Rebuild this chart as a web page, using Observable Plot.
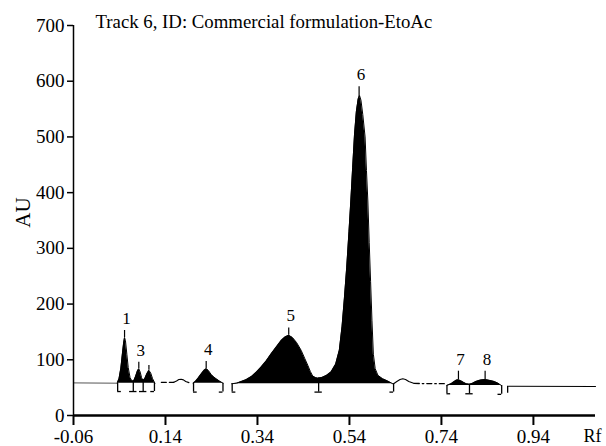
<!DOCTYPE html>
<html><head><meta charset="utf-8">
<script src="https://cdn.jsdelivr.net/npm/d3@7"></script>
<script src="https://cdn.jsdelivr.net/npm/@observablehq/plot@0.6"></script>
<style>body{margin:0;background:#fff} svg text{font-family:'Liberation Serif','Times New Roman',serif}</style>
</head><body><div id="chart"></div>
<script>
const title = "Track 6, ID: Commercial formulation-EtoAc";
const xTicks = [-0.06, 0.14, 0.34, 0.54, 0.74, 0.94];
const yTicks = [0, 100, 200, 300, 400, 500, 600, 700];

// filled peak regions (Rf, AU)
const peaks123Rf = [0.035, 0.039, 0.043, 0.046, 0.049, 0.051, 0.053, 0.056, 0.059, 0.063, 0.067, 0.071, 0.075, 0.079, 0.082, 0.085, 0.088, 0.091, 0.095, 0.099, 0.104, 0.108, 0.112, 0.117];
const peaks123Au = [58, 66, 85, 108, 130, 140, 134, 110, 86, 68, 62, 62, 70, 80, 84, 78, 68, 63, 66, 74, 81, 76, 66, 58];
const peak4Rf = [0.200, 0.205, 0.210, 0.218, 0.224, 0.2285, 0.233, 0.239, 0.245, 0.250, 0.257, 0.265];
const peak4Au = [58, 61, 66, 75, 81, 84, 81, 74, 69, 66, 62, 58];
const peaks56Rf = [0.284, 0.295, 0.305, 0.315, 0.327, 0.338, 0.348, 0.359, 0.370, 0.381, 0.392, 0.400, 0.408, 0.416, 0.425, 0.435, 0.443, 0.4495, 0.455, 0.460, 0.466, 0.471, 0.480, 0.490, 0.500, 0.510, 0.518, 0.524, 0.529, 0.534, 0.539, 0.543, 0.547, 0.551, 0.555, 0.559, 0.562, 0.565, 0.569, 0.574, 0.577, 0.580, 0.583, 0.586, 0.589, 0.592, 0.596, 0.602, 0.612, 0.623, 0.634];
const peaks56Au = [57, 58, 61, 64, 70, 78, 87, 98, 111, 123, 135, 141, 144, 140, 131, 117, 102, 90, 79, 71, 68, 67, 68, 72, 78, 92, 117, 160, 210, 265, 330, 385, 445, 504, 545, 568, 574, 566, 540, 500, 440, 385, 310, 240, 170, 110, 84, 72, 66, 62, 57];
const peaks78Rf = [0.752, 0.761, 0.768, 0.773, 0.777, 0.782, 0.788, 0.794, 0.801, 0.808, 0.815, 0.825, 0.835, 0.845, 0.855, 0.863, 0.870];
const peaks78Au = [54, 57, 61, 63.5, 64, 62.5, 59.5, 57, 56, 58, 61, 63.5, 64.6, 63, 61, 58, 54];

// unfilled baseline pieces
const leadRf = [-0.06, 0.035];           const leadAu = [58.5, 58];
const dashARf = [0.131, 0.158];          const dashAAu = [59.5, 59.5];
const humpARf = [0.158, 0.164, 0.169, 0.174, 0.179, 0.184, 0.191];
const humpAAu = [59.5, 62, 64.5, 65, 64, 61, 59];
const humpBRf = [0.636, 0.643, 0.650, 0.656, 0.662, 0.669, 0.681];
const humpBAu = [57, 61, 64.5, 65.8, 64.5, 61, 57.5];
const dashBRf = [0.681, 0.752];          const dashBAu = [57.5, 57];
const tailRf = [0.886, 1.075];           const tailAu = [52.6, 52];

// peak apex markers and labels
const peakRf = [0.051, 0.082, 0.104, 0.2285, 0.408, 0.561, 0.777, 0.835];
const peakApex = [140, 84, 81, 84, 144, 571, 64, 64.6];
const peakTickTop = [152.6, 95.7, 89.8, 97, 157, 590, 79.5, 79.5];
const peakLabels = ["1", "3", "", "4", "5", "6", "7", "8"];

// integration brackets
const bracketRf = [0.036, 0.070, 0.0915, 0.116, 0.201, 0.265, 0.285, 0.473, 0.636, 0.752, 0.801, 0.871, 0.884];
const bracketTop = [58, 62, 63, 58, 58, 58, 57, 67, 57, 54, 56, 54, 52.6];
const bracketBottom = [43, 43, 43, 43, 42, 42, 42, 42, 42, 39, 39, 38, 40];
const bracketKind = ["open", "split", "split", "close", "open", "close", "open", "split", "close", "open", "split", "close", "plain"];

// ---- build tables ----
function region(name, rf, au) {
  const n = rf.length, x0 = rf[0], x1 = rf[n - 1], b0 = au[0], b1 = au[n - 1];
  return rf.map((x, i) => ({region: name, rf: x, au: au[i], base: b0 + (b1 - b0) * (x - x0) / (x1 - x0)}));
}
const fillRows = [
  ...region("A", peaks123Rf, peaks123Au),
  ...region("B", peak4Rf, peak4Au),
  ...region("C", peaks56Rf, peaks56Au),
  ...region("D", peaks78Rf, peaks78Au)
];
const seg = (name, rf, au) => rf.map((x, i) => ({seg: name, rf: x, au: au[i]}));
const solidRows = [...seg("hA", humpARf, humpAAu), ...seg("hB", humpBRf, humpBAu), ...seg("tail", tailRf, tailAu)];
const leadRows = seg("lead", leadRf, leadAu);
const dashRows = [...seg("dA", dashARf, dashAAu)];
const dashDotRows = [...seg("dB", dashBRf, dashBAu)];

const footW = 0.008;
const brackets = bracketRf.map((x, i) => ({
  rf: x, top: bracketTop[i], bottom: bracketBottom[i], kind: bracketKind[i],
  left: bracketKind[i] === "close" || bracketKind[i] === "split" ? x - footW : x,
  right: bracketKind[i] === "open" || bracketKind[i] === "split" ? x + footW : x
}));
const feet = brackets.filter(d => d.kind !== "plain");
const peaks = peakRf.map((x, i) => ({rf: x, apex: peakApex[i], top: peakTickTop[i], label: peakLabels[i]}));

const serif = "'Liberation Serif', 'Times New Roman', serif";

const chart = Plot.plot({
  width: 606,
  height: 446,
  marginLeft: 73,
  marginRight: 11,
  marginTop: 25,
  marginBottom: 31,
  style: {fontFamily: serif, fontSize: "19px", background: "#fff", color: "#000"},
  x: {domain: [-0.06, 1.075]},
  y: {domain: [0, 700]},
  marks: [
    Plot.areaY(fillRows, {x: "rf", y1: "base", y2: "au", z: "region", fill: "#000", curve: "linear"}),
    Plot.line(fillRows, {x: "rf", y: "au", z: "region", stroke: "#000", strokeWidth: 1}),
    Plot.line(leadRows, {x: "rf", y: "au", z: "seg", stroke: "#555", strokeWidth: 1}),
    Plot.line(solidRows, {x: "rf", y: "au", z: "seg", stroke: "#000", strokeWidth: 1.1}),
    Plot.line(dashRows, {x: "rf", y: "au", z: "seg", stroke: "#000", strokeWidth: 1.3, strokeDasharray: "5,3"}),
    Plot.line(dashDotRows, {x: "rf", y: "au", z: "seg", stroke: "#000", strokeWidth: 1.3, strokeDasharray: "5,3,1.5,3"}),
    Plot.ruleX(brackets, {x: "rf", y1: "bottom", y2: "top", stroke: "#000", strokeWidth: 1.3}),
    Plot.ruleY(feet, {y: "bottom", x1: "left", x2: "right", stroke: "#000", strokeWidth: 1.3}),
    Plot.ruleX(peaks, {x: "rf", y1: "apex", y2: "top", stroke: "#000", strokeWidth: 1.2}),
    Plot.text(peaks, {x: "rf", y: "top", text: "label", dx: 2, dy: -12, fontSize: 17, fontFamily: serif, fill: "#000"}),
    Plot.ruleX([-0.06], {stroke: "#000", strokeWidth: 1.5}),
    Plot.ruleY([0], {stroke: "#000", strokeWidth: 2.6}),
    Plot.axisX({ticks: xTicks, tickSize: 10, tickPadding: 4, tickFormat: d => d.toFixed(2), label: null, strokeWidth: 2, fontSize: 19, fontFamily: serif}),
    Plot.axisY({ticks: yTicks, tickSize: 6, tickPadding: 3, label: null, strokeWidth: 1.5, fontSize: 19, fontFamily: serif}),
    Plot.text(["Rf"], {frameAnchor: "bottom-right", dx: 6, dy: 21, lineAnchor: "middle", textAnchor: "end", fontSize: 18, fontFamily: serif, fill: "#000"}),
    Plot.text(["AU"], {frameAnchor: "left", rotate: -90, dx: -50, dy: -8, lineAnchor: "middle", textAnchor: "middle", fontSize: 21, fontFamily: serif, fill: "#000"}),
    Plot.text([title], {frameAnchor: "top-left", dx: 22, dy: 2, textAnchor: "start", lineAnchor: "bottom", fontSize: 18.8, fontFamily: serif, fill: "#000"})
  ]
});
document.getElementById("chart").appendChild(chart);
</script>
</body></html>
